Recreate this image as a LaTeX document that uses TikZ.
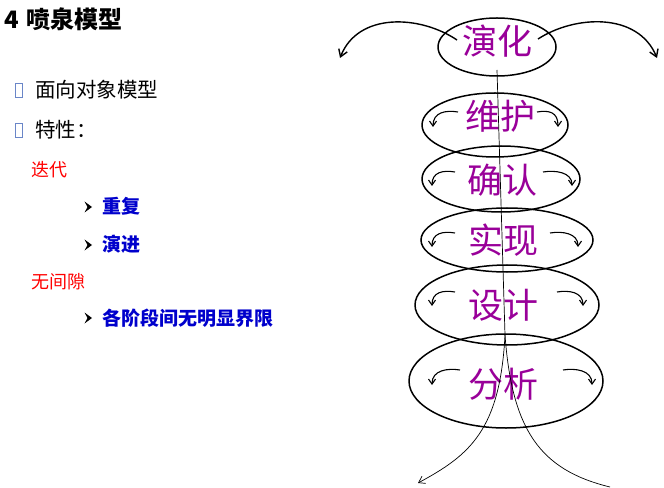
\documentclass[tikz,border=0pt]{standalone}
\usepackage{fontspec}
\newfontfamily\cjk{Noto Sans CJK SC}
\usetikzlibrary{shapes.geometric,arrows.meta}
\definecolor{stagepurple}{HTML}{990099}
\definecolor{itemblue}{HTML}{0000CC}
\definecolor{boxblue}{HTML}{6A86C8}
\tikzset{
  stage/.style={draw, ellipse, line width=1.5bp, inner sep=0pt},
  stagetext/.style={font=\cjk\fontsize{35bp}{40bp}\selectfont, text=stagepurple, inner sep=0pt},
  loop/.style={line width=1.1bp, -{Straight Barb[length=5bp,width=7bp]}},
  bigarc/.style={line width=1.4bp, -{Straight Barb[length=7bp,width=9bp]}},
  flow/.style={line width=0.7bp},
  lefttext/.style={anchor=west, inner sep=0pt},
  bul/.style={fill=black},
}
\begin{document}
\begin{tikzpicture}[x=1bp,y=-1bp]
\useasboundingbox (0,0) rectangle (664,488);
% left text
\node[lefttext, font=\cjk\bfseries\fontsize{24bp}{28bp}\selectfont] (title) at (4,19) {4\hspace{8bp}喷泉模型};
\draw[boxblue, line width=0.9bp] (15,83) rectangle (22,97);
\draw[boxblue, line width=0.9bp] (15,123) rectangle (22,137);
\node[lefttext, font=\cjk\fontsize{20.5bp}{24bp}\selectfont] (oo) at (35,90) {面向对象模型};
\node[lefttext, font=\cjk\fontsize{20.5bp}{24bp}\selectfont] (tx) at (35,130) {特性：};
\node[lefttext, font=\cjk\fontsize{18bp}{22bp}\selectfont, text=red] (it) at (31,170) {迭代};
\node[lefttext, font=\cjk\bfseries\fontsize{19bp}{22bp}\selectfont, text=itemblue] (cf) at (102,206) {重复};
\node[lefttext, font=\cjk\bfseries\fontsize{19bp}{22bp}\selectfont, text=itemblue] (yj) at (102,244) {演进};
\node[lefttext, font=\cjk\fontsize{18bp}{22bp}\selectfont, text=red] (wj) at (31,282) {无间隙};
\node[lefttext, font=\cjk\bfseries\fontsize{19bp}{22bp}\selectfont, text=itemblue] (gj) at (102,318) {各阶段间无明显界限};
\foreach \yy in {207,245,318}{
  \fill[bul] (92,\yy) -- (84.5,\yy-5.5) -- (87.5,\yy) -- (84.5,\yy+5.5) -- cycle;
}
% ellipses
\node[stage, minimum width=118bp, minimum height=58bp] (e1) at (497,47) {};
\node[stage, minimum width=146bp, minimum height=64bp] (e2) at (495,125) {};
\node[stage, minimum width=158bp, minimum height=66bp] (e3) at (501,179) {};
\node[stage, minimum width=172bp, minimum height=64bp] (e4) at (507,240) {};
\node[stage, minimum width=184bp, minimum height=80bp] (e5) at (507,305) {};
\node[stage, minimum width=194bp, minimum height=94bp] (e6) at (506,381) {};
% texts
\node[stagetext] (t1) at (497,41) {演化};
\node[stagetext] (t2) at (500,116) {维护};
\node[stagetext] (t3) at (502,180) {确认};
\node[stagetext] (t4) at (503,240) {实现};
\node[stagetext] (t5) at (503,305) {设计};
\node[stagetext] (t6) at (503,384) {分析};
% central flow
\coordinate (top) at (497,70);
\coordinate (split) at (505,335);
\coordinate (endl) at (418,483);
\coordinate (endr) at (610,487);
\draw[flow] (top) -- (split);
\draw[flow, -{Straight Barb[length=6bp,width=8bp]}] (split) .. controls (500,430) and (470,455) .. (endl);
\draw[flow] (split) .. controls (512,430) and (540,470) .. (endr);
% top arcs
\coordinate (al0) at (457,40);
\coordinate (al1) at (340,58);
\coordinate (ar0) at (538,39);
\coordinate (ar1) at (657,58);
\draw[bigarc] (al0) .. controls (420,15) and (358,12) .. (al1);
\draw[bigarc] (ar0) .. controls (575,15) and (638,12) .. (ar1);
% small loops in ellipses
\foreach \xa/\xb/\xc/\xd/\ya/\yb in {458/433/537/558/112/127, 455/432/543/572/172/186, 455/432/550/578/233/247, 455/432/557/583/292/306, 460/432/563/592/370/385}{
  \draw[loop] (\xa,\ya) .. controls (\xa-12,\ya-2) and (\xb,\ya) .. (\xb,\yb);
  \draw[loop] (\xc,\ya) .. controls (\xc+12,\ya-2) and (\xd,\ya) .. (\xd,\yb);
}
\end{tikzpicture}
\end{document}
